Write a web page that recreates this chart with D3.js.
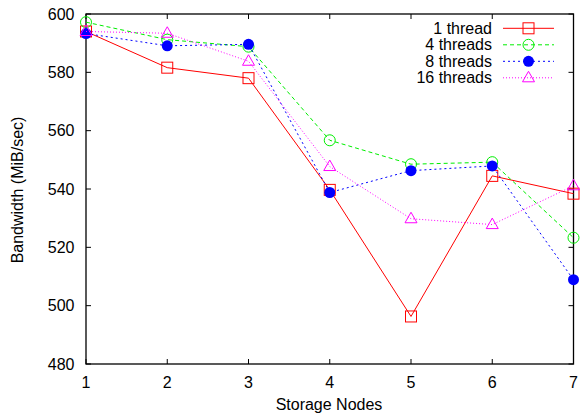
<!DOCTYPE html>
<html lang="en">
<head>
<meta charset="UTF-8">
<title>Bandwidth vs Storage Nodes</title>
<script src="https://d3js.org/d3.v7.min.js"></script>
<style>
    body { margin: 0; background: #fff; }
    svg text { font-family: "Liberation Sans", Arial, sans-serif; fill: #000; font-size: 16px; }
</style>
</head>
<body>
<svg id="chart" width="581" height="419"></svg>
<script>
    // data
    const nodes = [1, 2, 3, 4, 5, 6, 7];
    const seriesNames = ["1 thread", "4 threads", "8 threads", "16 threads"];
    const thread1 = [594, 581.6, 578, 539.7, 496.3, 544.5, 538.4];
    const thread4 = [597.2, 591.2, 588.8, 556.7, 548.5, 549.2, 523.3];
    const thread8 = [593.3, 589.1, 589.6, 538.8, 546.3, 547.9, 508.9];
    const thread16 = [594, 593.4, 583.8, 547.7, 529.8, 527.8, 541.1];
    const yTicks = [480, 500, 520, 540, 560, 580, 600];

    const series = [
        { name: seriesNames[0], values: thread1, color: "#ff0000", dash: null, marker: "square" },
        { name: seriesNames[1], values: thread4, color: "#00ee00", dash: "4,3", marker: "circle" },
        { name: seriesNames[2], values: thread8, color: "#0000ff", dash: "2,3", marker: "dot" },
        { name: seriesNames[3], values: thread16, color: "#ff00ff", dash: "1,2", marker: "triangle" }
    ];

    const svg = d3.select("#chart");
    const margin = { left: 86, right: 7.5, top: 14, bottom: 55 };
    const W = 581, H = 419;
    const x = d3.scaleLinear().domain([1, 7]).range([margin.left, W - margin.right]);
    const y = d3.scaleLinear().domain([480, 600]).range([H - margin.bottom, margin.top]);

    // frame
    svg.append("rect")
        .attr("x", x(1)).attr("y", y(600))
        .attr("width", x(7) - x(1)).attr("height", y(480) - y(600))
        .attr("fill", "none").attr("stroke", "#000").attr("stroke-width", 1.3);

    // inward ticks on all four sides
    const tk = 5;
    nodes.forEach(n => {
        svg.append("line").attr("x1", x(n)).attr("x2", x(n)).attr("y1", y(480)).attr("y2", y(480) - tk).attr("stroke", "#000");
        svg.append("line").attr("x1", x(n)).attr("x2", x(n)).attr("y1", y(600)).attr("y2", y(600) + tk).attr("stroke", "#000");
        svg.append("text").attr("x", x(n)).attr("y", y(480) + 23.5)
            .attr("text-anchor", "middle").text(n);
    });
    yTicks.forEach(v => {
        svg.append("line").attr("x1", x(1)).attr("x2", x(1) + tk).attr("y1", y(v)).attr("y2", y(v)).attr("stroke", "#000");
        svg.append("line").attr("x1", x(7)).attr("x2", x(7) - tk).attr("y1", y(v)).attr("y2", y(v)).attr("stroke", "#000");
        svg.append("text").attr("x", x(1) - 11.5).attr("y", y(v) + 5.5)
            .attr("text-anchor", "end").text(v);
    });

    // axis titles
    svg.append("text").attr("x", 329).attr("y", 410)
        .attr("text-anchor", "middle").text("Storage Nodes");
    svg.append("text").attr("transform", "translate(23,190) rotate(-90)")
        .attr("text-anchor", "middle").text("Bandwidth (MiB/sec)");

    function drawMarker(g, kind, cx, cy, color) {
        if (kind === "square") {
            g.append("rect").attr("x", cx - 5.5).attr("y", cy - 5.5).attr("width", 11).attr("height", 11)
                .attr("fill", "none").attr("stroke", color);
        } else if (kind === "circle") {
            g.append("circle").attr("cx", cx).attr("cy", cy).attr("r", 5.5)
                .attr("fill", "none").attr("stroke", color);
        } else if (kind === "dot") {
            g.append("circle").attr("cx", cx).attr("cy", cy).attr("r", 5.5).attr("fill", color);
        } else {
            g.append("path")
                .attr("d", `M${cx},${cy - 6.5}L${cx + 6},${cy + 4}L${cx - 6},${cy + 4}Z`)
                .attr("fill", "none").attr("stroke", color);
        }
    }

    const line = d3.line().x((d, i) => x(nodes[i])).y(d => y(d));

    series.forEach(s => {
        const g = svg.append("g");
        g.append("path").attr("d", line(s.values))
            .attr("fill", "none").attr("stroke", s.color).attr("stroke-width", 1)
            .attr("stroke-dasharray", s.dash);
        s.values.forEach((v, i) => drawMarker(g, s.marker, x(nodes[i]), y(v), s.color));
    });

    // legend
    series.forEach((s, i) => {
        const ly = 28.3 + i * 16.5;
        const g = svg.append("g");
        g.append("text").attr("x", 492).attr("y", ly + 5.5)
            .attr("text-anchor", "end").text(s.name);
        g.append("line").attr("x1", 503).attr("x2", 554).attr("y1", ly).attr("y2", ly)
            .attr("stroke", s.color).attr("stroke-dasharray", s.dash);
        drawMarker(g, s.marker, 528.5, ly, s.color);
    });
</script>
</body>
</html>
